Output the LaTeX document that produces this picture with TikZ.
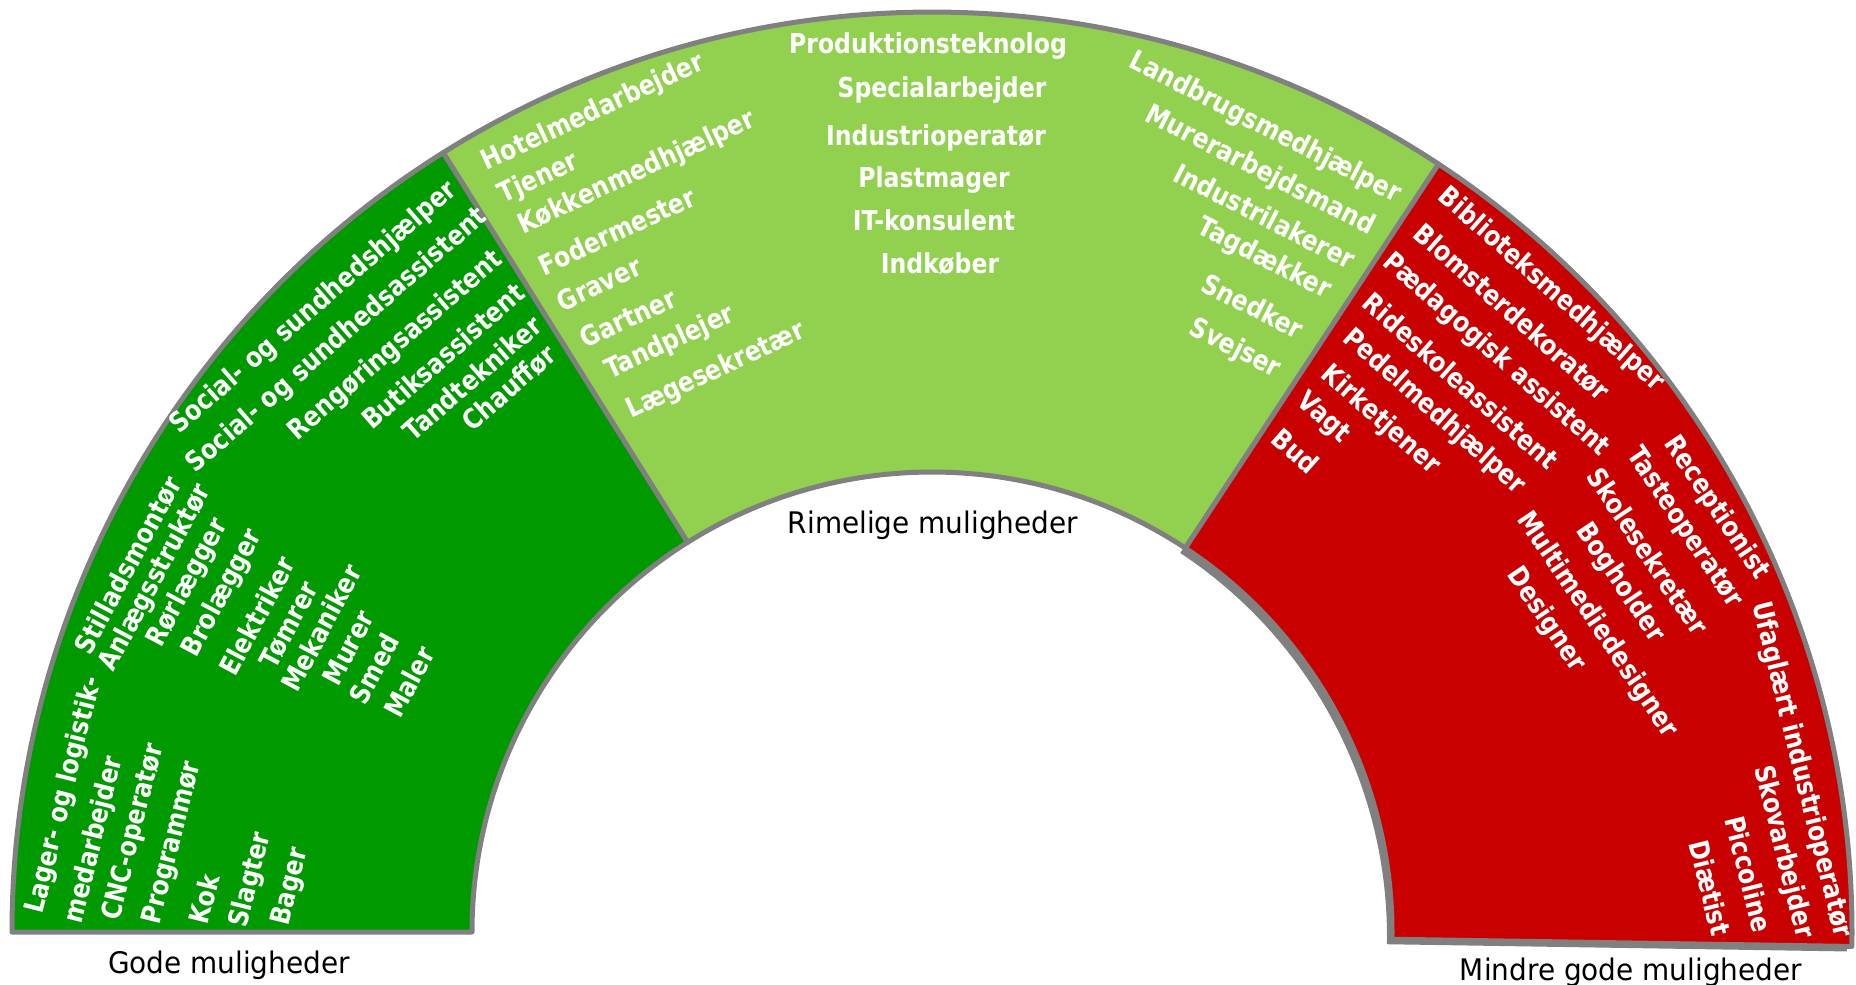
\documentclass[tikz,border=0pt]{standalone}
\usepackage{fontspec}
\setmainfont{DejaVu Sans}[FakeStretch=0.94]
\newfontfamily\jobfont{DejaVu Sans}[FakeStretch=0.86]

\definecolor{goodgreen}{RGB}{0,153,0}
\definecolor{fairgreen}{RGB}{146,208,80}
\definecolor{poorred}{RGB}{200,0,0}
\definecolor{ringgray}{RGB}{128,128,128}

\tikzset{
  sector/.style={draw=ringgray, line width=5pt, line join=round},
  job/.style={text=white, inner sep=0pt, font={\jobfont\bfseries\fontsize{27.4}{40}\selectfont}},
  caption/.style={text=black, inner sep=0pt, anchor=base, font={\fontsize{29.7}{36}\selectfont}}
}

\begin{document}
\begin{tikzpicture}[x=1pt,y=1pt]
    \useasboundingbox (0,0) rectangle (1856,-985);
    \coordinate (c) at (932,-932);
    \coordinate (cs) at (927,-937);

    \fill[ringgray] ([shift={(-0.9:460)}]cs) arc[start angle=-0.9, end angle=56.6, radius=460]
        -- ([shift={(56.6:920)}]cs) arc[start angle=56.6, end angle=-0.9, radius=920] -- cycle;
    \path[sector, fill=poorred] ([shift={(-0.9:460)}]c) arc[start angle=-0.9, end angle=56.6, radius=460]
        -- ([shift={(56.6:920)}]c) arc[start angle=56.6, end angle=-0.9, radius=920] -- cycle;
    \path[sector, fill=fairgreen] ([shift={(56.6:460)}]c) arc[start angle=56.6, end angle=122.1, radius=460]
        -- ([shift={(122.1:920)}]c) arc[start angle=122.1, end angle=56.6, radius=920] -- cycle;
    \path[sector, fill=goodgreen] ([shift={(122.1:460)}]c) arc[start angle=122.1, end angle=180, radius=460]
        -- ([shift={(180:920)}]c) arc[start angle=180, end angle=122.1, radius=920] -- cycle;

    \node[job, rotate=41] (a1) at (314,-308) {Social- og sundhedshjælper};
    \node[job, rotate=41] (a2) at (337,-341) {Social- og sundhedsassistent};
    \node[job, rotate=41] (a3) at (396,-346) {Rengøringsassistent};
    \node[job, rotate=41] (a4) at (443,-356) {Butiksassistent};
    \node[job, rotate=41] (a5) at (472,-378) {Tandtekniker};
    \node[job, rotate=41] (a6) at (509,-388) {Chauffør};

    \node[job, rotate=62] (b1) at (128,-565) {Stilladsmontør};
    \node[job, rotate=62] (b2) at (156,-578) {Anlægsstruktør};
    \node[job, rotate=62] (b3) at (188,-583) {Rørlægger};
    \node[job, rotate=62] (b4) at (223,-593) {Brolægger};
    \node[job, rotate=62] (b5) at (257,-616) {Elektriker};
    \node[job, rotate=62] (b6) at (289,-625) {Tømrer};
    \node[job, rotate=62] (b7) at (321,-628) {Mekaniker};
    \node[job, rotate=62] (b8) at (348,-648) {Murer};
    \node[job, rotate=62] (b9) at (374,-669) {Smed};
    \node[job, rotate=62] (b10) at (409,-682) {Maler};

    \node[job, rotate=76, align=left] (c1) at (84,-800) {Lager- og logistik-\\medarbejder};
    \node[job, rotate=76] (c2) at (134,-832) {CNC-operatør};
    \node[job, rotate=76] (c3) at (173,-843) {Programmør};
    \node[job, rotate=76] (c4) at (204,-899) {Kok};
    \node[job, rotate=76] (c5) at (251,-880) {Slagter};
    \node[job, rotate=76] (c6) at (291,-887) {Bager};

    \node[job, rotate=25] (d1) at (593,-113) {Hotelmedarbejder};
    \node[job, rotate=25] (d2) at (539,-179) {Tjener};
    \node[job, rotate=25] (d3) at (637,-173) {Køkkenmedhjælper};
    \node[job, rotate=25] (d4) at (617,-231) {Fodermester};
    \node[job, rotate=25] (d5) at (599,-284) {Graver};
    \node[job, rotate=25] (d6) at (628,-318) {Gartner};
    \node[job, rotate=25] (d7) at (670,-343) {Tandplejer};
    \node[job, rotate=25] (d8) at (716,-371) {Lægesekretær};

    \node[job, anchor=base] (e1) at (928,-53) {Produktionsteknolog};
    \node[job, anchor=base] (e2) at (942,-97) {Specialarbejder};
    \node[job, anchor=base] (e3) at (936,-145) {Industrioperatør};
    \node[job, anchor=base] (e4) at (934,-187) {Plastmager};
    \node[job, anchor=base] (e5) at (934,-230) {IT-konsulent};
    \node[job, anchor=base] (e6) at (940,-273) {Indkøber};

    \node[job, rotate=-27] (f1) at (1265,-128) {Landbrugsmedhjælper};
    \node[job, rotate=-27] (f2) at (1260,-171) {Murerarbejdsmand};
    \node[job, rotate=-27] (f3) at (1265,-216) {Industrilakerer};
    \node[job, rotate=-27] (f4) at (1264,-259) {Tagdækker};
    \node[job, rotate=-27] (f5) at (1253,-306) {Snedker};
    \node[job, rotate=-27] (f6) at (1235,-349) {Svejser};

    \node[job, rotate=-41.5] (g1) at (1551,-290) {Biblioteksmedhjælper};
    \node[job, rotate=-41.5] (g2) at (1512,-312) {Blomsterdekoratør};
    \node[job, rotate=-41.5] (g3) at (1496,-355) {Pædagogisk assistent};
    \node[job, rotate=-41.5] (g4) at (1461,-381) {Rideskoleassistent};
    \node[job, rotate=-41.5] (g5) at (1434,-412) {Pedelmedhjælper};
    \node[job, rotate=-41.5] (g6) at (1380,-420) {Kirketjener};
    \node[job, rotate=-41.5] (g7) at (1323,-418) {Vagt};
    \node[job, rotate=-41.5] (g8) at (1296,-451) {Bud};

    \node[job, rotate=-56] (h1) at (1716,-508) {Receptionist};
    \node[job, rotate=-56] (h2) at (1684,-528) {Tasteoperatør};
    \node[job, rotate=-56] (h3) at (1648,-551) {Skolesekretær};
    \node[job, rotate=-56] (h4) at (1620,-583) {Bogholder};
    \node[job, rotate=-56] (h5) at (1597,-625) {Multimediedesigner};
    \node[job, rotate=-56] (h6) at (1546,-620) {Designer};

    \node[job, rotate=-76] (i1) at (1801,-770) {Ufaglært industrioperatør};
    \node[job, rotate=-76] (i2) at (1783,-852) {Skovarbejder};
    \node[job, rotate=-76] (i3) at (1749,-874) {Piccoline};
    \node[job, rotate=-76] (i4) at (1710,-888) {Diætist};

    \node[caption] (good) at (229,-973) {Gode muligheder};
    \node[caption] (fair) at (933,-533) {Rimelige muligheder};
    \node[caption] (poor) at (1631,-980) {Mindre gode muligheder};
\end{tikzpicture}
\end{document}
